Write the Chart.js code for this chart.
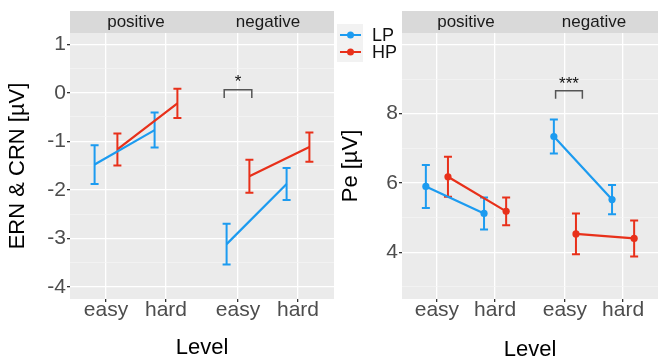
<!DOCTYPE html>
<html>
<head>
<meta charset="utf-8">
<script src="https://cdn.jsdelivr.net/npm/chart.js@4.4.0/dist/chart.umd.min.js"></script>
<style>
    body { margin: 0; background: #fff; }
    #wrap { position: relative; width: 662px; height: 363px; overflow: hidden; }
    .panel { position: absolute; top: 0; height: 363px; }
</style>
</head>
<body>
<div id="wrap">
    <div class="panel" style="left:0;width:336px"><canvas id="ernChart"></canvas></div>
    <div class="panel" style="left:333px;width:329px"><canvas id="peChart"></canvas></div>
</div>
<script>
// Facets / levels / groups
const facets = ['positive', 'negative'];
const levels = ['easy', 'hard'];
const groups = ['LP', 'HP'];

// Values per cell, order: positive-easy, positive-hard, negative-easy, negative-hard
const ernLP = [-1.48, -0.77, -3.12, -1.88];
const ernLPErr = [0.40, 0.36, 0.42, 0.33];
const ernHP = [-1.17, -0.22, -1.72, -1.12];
const ernHPErr = [0.33, 0.30, 0.34, 0.30];

const peLP = [5.90, 5.12, 7.34, 5.52];
const peLPErr = [0.62, 0.46, 0.49, 0.42];
const peHP = [6.18, 5.18, 4.53, 4.40];
const peHPErr = [0.58, 0.40, 0.59, 0.52];

// Tick values (labelled ones)
const ernTicks = [-4, -3, -2, -1, 0, 1];
const peTicks = [4, 6, 8];

const BLUE = '#1c9bf0';
const RED = '#e8301a';

// x layout: two facets of 2.2 units each, levels at 0.6 / 1.6 inside a facet
const slotX = [0.6, 1.6, 2.8, 3.8];
const dodge = 0.19;

function linePoints(values, shift) {
    const pts = [];
    values.forEach((v, i) => {
        if (i === 2) pts.push({ x: 2.2, y: null });
        pts.push({ x: slotX[i] + shift, y: v });
    });
    return pts;
}

// Panel background + facet strips
const stripPlugin = {
    id: 'strips',
    beforeDraw(chart) {
        const { ctx, chartArea: a, scales } = chart;
        ctx.save();
        ctx.fillStyle = '#ebebeb';
        ctx.fillRect(a.left, a.top, a.right - a.left, a.bottom - a.top);
        ctx.fillStyle = '#d9d9d9';
        ctx.fillRect(a.left, 11, a.right - a.left, a.top - 11);
        ctx.fillStyle = '#1a1a1a';
        ctx.font = '17px "Liberation Sans", Arial, sans-serif';
        ctx.textAlign = 'center';
        ctx.textBaseline = 'middle';
        facets.forEach((f, i) => {
            ctx.fillText(f, scales.x.getPixelForValue(1.1 + i * 2.2), 22);
        });
        ctx.restore();
    }
};

// Error bars from the same mean/err arrays
const errorBarPlugin = {
    id: 'errorBars',
    beforeDatasetsDraw(chart) {
        const { ctx, scales } = chart;
        ctx.save();
        chart.data.datasets.forEach((ds, di) => {
            const meta = chart.getDatasetMeta(di);
            let k = 0;
            ds.data.forEach((p, j) => {
                if (p.y === null) return;
                const x = meta.data[j].x;
                const yTop = scales.y.getPixelForValue(ds.means[k] + ds.errs[k]);
                const yBot = scales.y.getPixelForValue(ds.means[k] - ds.errs[k]);
                ctx.strokeStyle = ds.borderColor;
                ctx.lineWidth = 2;
                ctx.beginPath();
                ctx.moveTo(x, yTop); ctx.lineTo(x, yBot);
                ctx.moveTo(x - 4, yTop); ctx.lineTo(x + 4, yTop);
                ctx.moveTo(x - 4, yBot); ctx.lineTo(x + 4, yBot);
                ctx.stroke();
                k++;
            });
        });
        ctx.restore();
    }
};

// Significance bracket above negative-easy
const bracketPlugin = {
    id: 'bracket',
    afterDatasetsDraw(chart, args, opts) {
        const { ctx, scales } = chart;
        const x1 = scales.x.getPixelForValue(opts.x - 0.23);
        const x2 = scales.x.getPixelForValue(opts.x + 0.23);
        const yT = scales.y.getPixelForValue(opts.top);
        const yB = scales.y.getPixelForValue(opts.bottom);
        ctx.save();
        ctx.strokeStyle = '#555';
        ctx.lineWidth = 1.5;
        ctx.beginPath();
        ctx.moveTo(x1, yB); ctx.lineTo(x1, yT); ctx.lineTo(x2, yT); ctx.lineTo(x2, yB);
        ctx.stroke();
        ctx.fillStyle = '#111';
        ctx.font = '17px "Liberation Sans", Arial, sans-serif';
        ctx.textAlign = 'center';
        ctx.textBaseline = 'middle';
        ctx.fillText(opts.label, (x1 + x2) / 2, yT - 7);
        ctx.restore();
    }
};

// Legend sitting between the two plots
const legendPlugin = {
    id: 'sideLegend',
    afterDraw(chart) {
        const { ctx } = chart;
        ctx.save();
        ctx.fillStyle = '#ffffff';
        ctx.fillRect(2, 18, 66, 50);
        ctx.fillStyle = '#f2f2f2';
        ctx.fillRect(4, 24, 26, 38);
        [BLUE, RED].forEach((c, i) => {
            const y = 35 + i * 17;
            ctx.strokeStyle = c;
            ctx.fillStyle = c;
            ctx.lineWidth = 2;
            ctx.beginPath();
            ctx.moveTo(7, y); ctx.lineTo(28, y);
            ctx.stroke();
            ctx.beginPath();
            ctx.arc(17.5, y, 3.5, 0, Math.PI * 2);
            ctx.fill();
            ctx.fillStyle = '#111';
            ctx.font = '18px "Liberation Sans", Arial, sans-serif';
            ctx.textAlign = 'left';
            ctx.textBaseline = 'middle';
            ctx.fillText(groups[i], 39, y + 1);
        });
        ctx.restore();
    }
};

function makeChart(id, cfg) {
    const ctx = document.getElementById(id).getContext('2d');
    const font = '"Liberation Sans", Arial, sans-serif';
    const isMajor = v => cfg.labelled.includes(v) || v === cfg.extraMajor;
    return new Chart(ctx, {
        type: 'line',
        data: {
            datasets: [
                {
                    label: groups[0], data: linePoints(cfg.lp, -dodge), means: cfg.lp, errs: cfg.lpErr,
                    borderColor: BLUE, backgroundColor: BLUE, borderWidth: 2.2,
                    pointRadius: cfg.points ? 3.6 : 0, pointBorderWidth: 0, spanGaps: false
                },
                {
                    label: groups[1], data: linePoints(cfg.hp, dodge), means: cfg.hp, errs: cfg.hpErr,
                    borderColor: RED, backgroundColor: RED, borderWidth: 2.2,
                    pointRadius: cfg.points ? 3.6 : 0, pointBorderWidth: 0, spanGaps: false
                }
            ]
        },
        options: {
            responsive: true,
            maintainAspectRatio: false,
            animation: false,
            layout: { padding: { top: 33, right: cfg.padRight, left: 0, bottom: 0 } },
            plugins: {
                legend: { display: false },
                tooltip: { enabled: false },
                bracket: cfg.bracket
            },
            scales: {
                x: {
                    type: 'linear', min: 0, max: 4.4,
                    afterBuildTicks: s => { s.ticks = slotX.map(v => ({ value: v })); },
                    afterFit: s => { s.height = 64; },
                    ticks: {
                        autoSkip: false, maxRotation: 0, padding: -4,
                        color: '#4d4d4d', font: { family: font, size: 21 },
                        callback: (v, i) => levels[i % 2]
                    },
                    grid: { color: '#ffffff', lineWidth: 1.3, tickLength: 3, tickColor: '#333333' },
                    border: { display: false },
                    title: {
                        display: true, text: 'Level', color: '#000',
                        font: { family: font, size: 22 }, padding: { top: 0, bottom: cfg.xTitlePad }
                    }
                },
                y: {
                    min: cfg.min, max: cfg.max,
                    afterBuildTicks: s => { s.ticks = cfg.allTicks.map(v => ({ value: v })); },
                    afterFit: s => { s.width = cfg.yWidth; },
                    ticks: {
                        autoSkip: false, padding: 1,
                        color: '#4d4d4d', font: { family: font, size: 21 },
                        callback: v => cfg.labelled.includes(v) ? String(v) : ''
                    },
                    grid: {
                        color: c => isMajor(c.tick.value) ? '#ffffff' : '#f5f5f5',
                        lineWidth: c => isMajor(c.tick.value) ? 1.3 : 0.7,
                        tickLength: 3,
                        tickColor: c => cfg.labelled.includes(c.tick.value) ? '#333333' : 'rgba(0,0,0,0)'
                    },
                    border: { display: false },
                    title: {
                        display: true, text: cfg.yTitle, color: '#000',
                        font: { family: font, size: 22 }, padding: { top: 5, bottom: 0 }
                    }
                }
            }
        },
        plugins: cfg.extraPlugins
    });
}

makeChart('ernChart', {
    lp: ernLP, lpErr: ernLPErr, hp: ernHP, hpErr: ernHPErr,
    min: -4.25, max: 1.23,
    allTicks: [-4, -3.5, -3, -2.5, -2, -1.5, -1, -0.5, 0, 0.5, 1],
    labelled: ernTicks,
    yTitle: 'ERN & CRN [µV]', yWidth: 70, padRight: 2, xTitlePad: 2,
    points: false,
    bracket: { x: 2.8, top: 0.06, bottom: -0.11, label: '*' },
    extraPlugins: [stripPlugin, errorBarPlugin, bracketPlugin]
});

makeChart('peChart', {
    lp: peLP, lpErr: peLPErr, hp: peHP, hpErr: peHPErr,
    min: 2.65, max: 10.33,
    allTicks: [3, 4, 5, 6, 7, 8, 9, 10],
    labelled: peTicks, extraMajor: 10,
    yTitle: 'Pe [µV]', yWidth: 69, padRight: 1, xTitlePad: 0,
    points: true,
    bracket: { x: 2.87, top: 8.66, bottom: 8.43, label: '***' },
    extraPlugins: [stripPlugin, errorBarPlugin, bracketPlugin, legendPlugin]
});
</script>
</body>
</html>
